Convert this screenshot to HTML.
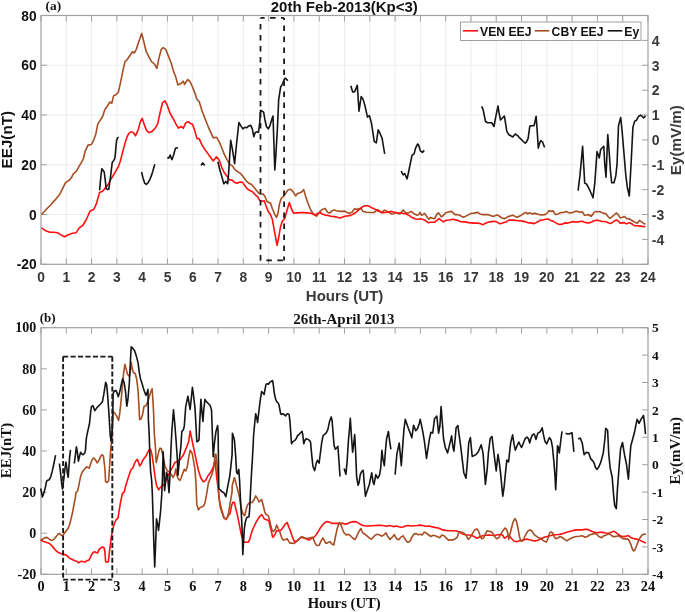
<!DOCTYPE html><html><head><meta charset="utf-8"><style>html,body{margin:0;padding:0;background:#fff;}svg{display:block;}</style></head><body>
<svg width="685" height="612" viewBox="0 0 685 612">
<rect width="685" height="612" fill="#fff"/>
<path d="M66.29 15.5V264.3M91.58 15.5V264.3M116.88 15.5V264.3M142.17 15.5V264.3M167.46 15.5V264.3M192.75 15.5V264.3M218.04 15.5V264.3M243.33 15.5V264.3M268.62 15.5V264.3M293.92 15.5V264.3M319.21 15.5V264.3M344.50 15.5V264.3M369.79 15.5V264.3M395.08 15.5V264.3M420.38 15.5V264.3M445.67 15.5V264.3M470.96 15.5V264.3M496.25 15.5V264.3M521.54 15.5V264.3M546.83 15.5V264.3M572.12 15.5V264.3M597.42 15.5V264.3M622.71 15.5V264.3M41.0 214.54H648.0M41.0 164.78H648.0M41.0 115.02H648.0M41.0 65.26H648.0" stroke="#ededed" stroke-width="1" fill="none"/>
<path d="M41.00 264.3v-6M41.00 15.5v6M66.29 264.3v-6M66.29 15.5v6M91.58 264.3v-6M91.58 15.5v6M116.88 264.3v-6M116.88 15.5v6M142.17 264.3v-6M142.17 15.5v6M167.46 264.3v-6M167.46 15.5v6M192.75 264.3v-6M192.75 15.5v6M218.04 264.3v-6M218.04 15.5v6M243.33 264.3v-6M243.33 15.5v6M268.62 264.3v-6M268.62 15.5v6M293.92 264.3v-6M293.92 15.5v6M319.21 264.3v-6M319.21 15.5v6M344.50 264.3v-6M344.50 15.5v6M369.79 264.3v-6M369.79 15.5v6M395.08 264.3v-6M395.08 15.5v6M420.38 264.3v-6M420.38 15.5v6M445.67 264.3v-6M445.67 15.5v6M470.96 264.3v-6M470.96 15.5v6M496.25 264.3v-6M496.25 15.5v6M521.54 264.3v-6M521.54 15.5v6M546.83 264.3v-6M546.83 15.5v6M572.12 264.3v-6M572.12 15.5v6M597.42 264.3v-6M597.42 15.5v6M622.71 264.3v-6M622.71 15.5v6M648.00 264.3v-6M648.00 15.5v6M41.0 264.30h6M41.0 214.54h6M41.0 164.78h6M41.0 115.02h6M41.0 65.26h6M41.0 15.50h6M648.0 264.30h-6M648.0 239.42h-6M648.0 214.54h-6M648.0 189.66h-6M648.0 164.78h-6M648.0 139.90h-6M648.0 115.02h-6M648.0 90.14h-6M648.0 65.26h-6M648.0 40.38h-6M648.0 15.50h-6" stroke="#a0a0a0" stroke-width="1" fill="none"/>
<rect x="41.0" y="15.5" width="607.0" height="248.8" fill="none" stroke="#a0a0a0" stroke-width="1.2"/>
<polyline points="41.6,214.5 45.9,209.8 50.8,204.7 54.7,200.4 59.6,194.5 63.1,187.6 65.5,182.7 69.0,180.4 71.8,176.9 73.3,173.9 76.3,171.4 79.2,166.1 82.2,161.2 83.5,158.2 85.1,151.4 88.0,145.1 91.4,144.5 93.9,139.6 95.9,133.7 97.8,123.9 102.5,116.7 104.9,109.4 107.4,106.2 109.8,102.0 111.8,103.2 113.5,95.9 115.9,94.7 118.4,92.2 120.8,81.2 123.3,68.9 125.0,61.6 127.0,59.9 129.4,56.2 132.4,51.8 134.3,53.0 136.3,49.3 138.7,42.0 141.7,33.4 143.6,40.7 146.1,51.3 149.0,57.2 151.5,61.6 154.4,64.0 156.9,68.4 158.8,58.6 161.3,49.3 163.2,47.6 165.7,49.3 168.1,55.4 171.1,62.8 173.5,71.4 175.5,76.3 177.9,84.9 180.9,83.6 183.3,81.2 184.6,84.4 187.7,79.5 190.0,81.6 192.5,87.0 194.9,93.1 196.9,99.2 199.3,101.7 201.8,110.2 204.2,116.4 207.2,124.2 209.6,129.9 213.3,137.9 216.5,137.2 219.4,142.1 221.9,148.2 224.3,154.4 226.8,159.3 229.7,164.2 232.7,166.2 235.4,170.1 238.1,171.9 240.8,173.7 243.5,177.0 246.2,180.9 248.9,183.3 251.6,184.5 254.3,187.8 257.0,191.0 258.8,193.2 260.6,193.7 263.3,194.1 265.1,196.8 266.9,201.3 268.7,202.5 270.5,203.1 272.3,208.5 274.1,212.9 276.4,217.4 277.7,214.7 279.5,204.0 281.3,198.2 283.6,196.4 285.8,193.2 287.9,189.9 290.3,189.2 292.9,191.4 295.6,195.9 297.4,193.5 300.1,192.8 301.9,191.7 303.7,189.6 305.5,195.9 308.2,204.0 310.9,210.3 313.1,213.8 314.9,215.1 316.7,216.2 318.1,213.8 319.9,212.1 320.0,211.4 322.2,209.6 325.1,208.4 327.3,211.8 329.5,213.2 331.7,211.1 333.9,210.0 336.8,210.8 339.7,211.4 341.9,211.4 344.8,211.1 347.0,212.5 349.2,213.2 352.1,212.2 354.3,208.9 356.5,209.3 358.7,208.9 360.9,208.4 363.1,211.4 366.7,212.2 370.4,212.5 374.0,212.5 376.2,210.8 377.7,209.6 379.9,211.1 382.0,212.2 384.2,210.3 386.4,210.8 388.6,212.2 390.1,213.2 391.5,214.0 393.7,213.7 395.9,212.5 397.4,213.2 399.6,214.0 401.8,211.8 403.2,209.9 404.7,211.8 406.9,213.2 409.1,212.5 411.2,211.4 413.4,213.2 415.0,214.3 417.2,215.3 418.6,214.6 420.1,212.4 421.6,215.3 423.0,214.6 424.5,213.4 425.9,215.3 427.4,217.5 428.9,219.3 430.3,217.5 432.5,218.2 434.7,218.7 436.6,214.6 438.4,212.8 439.8,214.6 441.3,216.8 443.5,215.3 445.7,212.8 448.6,212.0 451.5,211.4 453.0,212.8 455.1,214.6 457.3,214.6 459.5,215.3 461.7,216.4 463.5,217.2 465.4,216.4 468.3,214.9 471.2,213.4 474.1,213.1 477.8,212.4 480.0,213.9 482.2,214.6 485.1,214.6 488.0,214.6 490.9,215.8 493.8,216.4 496.8,214.9 498.9,215.8 501.1,217.5 504.1,218.7 506.2,217.8 508.4,216.4 510.0,216.1 512.9,215.3 515.1,216.4 517.3,217.2 520.2,215.8 522.4,214.3 524.6,212.8 526.1,212.4 527.5,213.9 529.7,212.8 531.9,213.9 534.8,213.4 537.0,213.9 539.2,214.6 542.1,215.0 545.0,214.6 547.2,213.1 548.7,210.9 550.9,211.4 553.1,210.9 554.5,213.4 556.0,214.6 558.2,213.9 560.4,212.8 563.3,212.4 566.2,211.4 568.4,212.4 570.6,213.1 572.8,212.4 575.0,211.4 577.9,211.4 580.1,212.4 582.3,211.7 583.7,213.9 584.5,215.3 586.6,215.0 588.8,214.6 591.0,216.4 593.2,213.9 593.5,213.0 595.3,211.5 597.4,211.8 599.6,211.8 601.8,212.5 603.6,213.4 605.8,213.6 608.0,216.5 610.0,218.5 611.9,216.9 614.1,215.0 616.3,213.0 618.0,214.3 620.2,217.9 622.4,217.3 624.6,216.5 626.8,218.6 629.0,218.8 631.2,220.0 633.4,221.3 635.5,222.6 637.3,223.2 639.5,220.4 641.2,221.7 643.4,223.2 645.4,224.3" fill="none" stroke="#a64d22" stroke-width="1.6" stroke-linejoin="round"/>
<polyline points="41.6,227.8 45.9,230.8 49.8,232.2 53.7,232.2 57.6,232.7 61.6,235.3 64.5,236.7 68.4,234.7 72.4,233.3 76.3,232.7 79.2,227.8 82.7,225.5 86.1,220.0 90.0,211.2 93.9,209.2 96.9,202.4 97.4,200.0 98.3,197.0 99.6,192.4 101.3,191.8 102.9,191.1 105.5,187.8 108.1,184.5 110.8,179.3 113.4,175.3 116.0,170.7 118.6,166.1 120.2,161.5 121.9,155.0 123.6,148.4 125.5,141.8 127.2,136.6 128.9,133.3 130.5,132.0 132.4,132.0 134.2,133.7 135.5,135.9 136.8,132.9 138.1,130.0 140.4,121.6 142.2,118.4 144.1,124.1 146.6,130.7 149.0,132.6 152.0,131.4 155.1,128.2 157.6,124.1 160.0,113.0 162.5,102.7 165.0,100.8 167.4,105.7 169.9,113.0 173.5,119.2 176.0,124.1 178.4,128.2 180.9,126.5 183.3,128.2 185.8,122.8 188.2,121.6 190.0,123.2 192.5,124.2 194.9,131.1 196.9,138.4 199.3,138.9 201.8,144.6 204.2,148.7 206.7,151.9 209.6,156.1 213.3,161.0 216.5,156.8 219.4,160.5 221.9,167.8 224.3,172.7 227.3,176.4 229.7,180.1 231.8,179.7 234.5,182.4 237.2,183.3 239.9,182.0 242.6,182.4 244.4,185.1 247.1,188.7 249.8,190.5 252.5,191.7 255.2,194.6 257.9,197.1 259.7,200.4 262.4,201.3 264.2,200.7 266.0,205.8 268.1,211.2 270.5,214.7 272.3,219.2 274.1,229.1 275.9,239.0 277.1,245.3 278.6,238.1 280.4,227.3 282.2,221.6 284.9,218.3 286.7,211.2 289.4,202.5 291.5,209.0 293.8,213.3 296.5,212.9 300.1,212.6 303.7,212.6 307.3,212.9 310.9,213.3 314.5,214.7 317.2,213.8 319.9,212.6 320.0,212.5 322.2,214.0 325.1,215.1 328.0,215.4 330.9,216.2 333.9,216.6 336.1,216.9 338.2,217.6 340.4,217.9 342.6,216.9 344.8,216.2 347.7,215.9 350.7,215.4 353.6,214.0 356.5,211.8 358.7,209.9 360.9,208.1 363.1,206.4 365.3,205.7 367.4,205.7 369.6,206.4 371.8,207.8 374.0,208.9 376.9,210.3 379.9,211.8 382.0,212.8 385.0,212.5 387.9,212.2 391.5,211.4 394.5,212.2 397.4,212.8 401.8,213.2 406.1,214.0 409.1,215.4 412.0,217.6 414.9,218.6 415.0,219.0 417.9,219.3 420.8,218.7 423.8,219.7 425.9,220.9 428.1,222.6 431.1,222.2 434.7,222.2 436.9,220.4 439.1,218.7 441.3,220.4 443.5,221.9 445.7,220.4 449.3,220.0 453.0,219.3 456.6,220.1 460.3,221.6 464.6,221.9 469.0,222.6 473.4,223.1 477.8,223.1 480.7,223.8 482.9,224.8 485.1,223.4 488.0,222.2 491.6,221.6 494.6,221.2 496.8,221.9 498.9,223.4 501.1,223.6 504.1,222.6 506.2,221.9 508.4,220.4 510.0,220.1 512.9,220.0 515.8,220.4 518.8,220.7 521.7,220.9 524.6,221.6 527.5,222.6 530.4,222.9 534.1,223.6 537.0,222.2 539.9,220.4 542.8,220.0 545.8,219.3 548.0,219.0 550.9,220.4 553.8,221.6 556.7,223.4 559.6,224.5 562.6,224.1 564.7,222.9 567.7,223.1 570.6,222.2 573.5,221.6 576.4,222.2 579.3,221.6 582.3,221.2 584.5,222.2 587.4,222.9 590.3,222.6 593.2,221.2 593.9,220.8 596.1,220.4 598.3,220.4 600.5,221.1 602.3,221.5 604.5,221.5 606.6,222.0 608.8,223.0 610.6,223.5 612.8,222.2 615.0,220.6 616.7,220.0 618.5,221.3 620.2,223.2 622.0,222.9 624.2,222.6 626.4,223.9 628.5,222.9 630.3,223.0 632.5,224.3 634.7,225.8 637.3,225.8 639.9,226.1 642.6,226.4 645.4,226.7" fill="none" stroke="#ff0f0f" stroke-width="1.6" stroke-linejoin="round"/>
<polyline points="99.6,190.4 100.9,176.0 101.8,168.8 102.9,170.1 104.2,172.0 105.2,179.9 106.2,188.5 107.5,189.4 108.8,189.1 110.1,179.9 111.4,169.4 112.3,162.2 113.4,160.9 114.7,158.9 115.4,153.6 116.0,145.8 116.7,139.9 117.6,137.9 118.6,137.2" fill="none" stroke="#141414" stroke-width="1.6" stroke-linejoin="round"/>
<polyline points="141.6,172.0 143.0,178.0 144.7,183.2 146.2,184.5 148.2,182.6 150.2,178.6 152.2,173.4 153.5,168.8 154.8,164.2" fill="none" stroke="#141414" stroke-width="1.6" stroke-linejoin="round"/>
<polyline points="167.3,157.6 168.6,158.2 170.2,155.0 171.2,158.2 171.9,159.6 173.2,156.3 173.8,154.3 174.5,151.7 175.4,148.4 176.7,147.7 177.8,148.4" fill="none" stroke="#141414" stroke-width="1.6" stroke-linejoin="round"/>
<polyline points="201.0,165.4 202.7,162.9 204.7,165.4" fill="none" stroke="#141414" stroke-width="1.6" stroke-linejoin="round"/>
<polyline points="217.9,161.8 219.9,170.0 221.9,176.9 223.8,183.7 225.8,181.4 227.7,183.7 228.7,172.0 230.7,140.2 232.6,150.4 234.6,163.7 236.6,143.5 238.9,122.5 240.9,125.9 242.8,128.8 244.8,127.3 246.8,127.8 248.7,125.9 250.7,125.3 252.3,128.8 253.8,136.7 255.2,132.4 257.2,131.8 258.5,132.4 259.7,122.9 260.5,110.2 262.1,111.2 263.6,112.2 265.0,120.0 266.4,126.5 268.3,128.8 269.9,125.9 271.9,119.0 273.0,116.1 274.8,170.0 275.8,156.3 277.4,128.8 278.7,99.4 280.7,86.7 282.6,84.1 284.0,79.8 285.2,78.2 286.6,79.4 287.9,80.8" fill="none" stroke="#141414" stroke-width="1.6" stroke-linejoin="round"/>
<polyline points="350.8,85.7 352.7,92.0 354.7,91.6 357.3,85.3 359.0,111.2 361.2,96.5 363.1,99.4 365.1,106.3 367.5,117.1 369.4,115.5 371.4,122.9 372.9,132.7 374.3,141.6 376.3,142.9 378.2,129.8 380.2,133.7 382.2,138.6 383.1,144.5 384.7,153.9" fill="none" stroke="#141414" stroke-width="1.6" stroke-linejoin="round"/>
<polyline points="401.2,171.0 403.1,174.9 404.7,173.5 407.1,178.8 409.0,170.0 410.6,162.2 412.0,155.3 414.1,153.9 415.5,148.4 417.5,144.1 418.4,144.5 420.4,150.8 422.4,152.4 424.3,150.4" fill="none" stroke="#141414" stroke-width="1.6" stroke-linejoin="round"/>
<polyline points="481.6,106.4 483.1,109.7 484.2,115.0 485.5,121.5 487.7,122.8 489.7,122.8 491.7,122.8 493.0,124.8 494.0,126.5 495.6,117.6 498.0,106.0 499.2,113.6 500.5,120.0 502.2,118.2 504.4,116.0 505.5,122.8 506.8,131.4 508.8,134.7 510.7,135.7 512.7,137.0 515.3,134.0 517.3,135.3 519.3,137.6 521.2,139.3 523.2,141.5 525.2,143.2 526.5,141.9 528.1,138.6 529.8,126.1 531.8,125.7 534.1,125.7 536.1,116.3 537.0,128.1 538.3,148.1 539.4,143.9 540.7,140.6 542.5,141.9 544.6,147.5" fill="none" stroke="#141414" stroke-width="1.6" stroke-linejoin="round"/>
<polyline points="578.1,190.6 579.9,175.9 581.1,163.3 582.6,146.2 584.0,170.5 584.7,183.1 586.5,184.0 588.0,186.7 589.8,190.3 591.2,193.5 593.0,197.8 594.8,183.1 597.0,151.6 598.4,155.2 599.3,157.9 600.6,149.8 602.0,148.0 603.8,146.2 604.7,163.3 606.0,177.3 607.8,134.6 609.2,152.5 610.4,170.5 611.7,182.7 614.0,182.7 615.8,175.9 617.1,163.3 618.5,125.6 620.7,117.5 622.1,131.0 623.9,152.5 625.7,174.1 627.2,186.7 629.3,196.0 631.1,163.3 632.9,127.4 634.7,121.1 636.5,120.2 638.7,116.2 640.5,115.1 641.9,116.2 643.7,118.0 645.5,115.7" fill="none" stroke="#141414" stroke-width="1.6" stroke-linejoin="round"/>
<g fill="none" stroke="#1a1a1a" stroke-width="1.8" stroke-dasharray="5.6 5.4">
<path d="M260.5 17.9H284.1" stroke-dashoffset="1.5"/>
<path d="M260.5 17.9V260.4" stroke-dashoffset="5"/>
<path d="M284.1 17.9V260.4" stroke-dashoffset="3.4"/>
<path d="M260.5 260.4H284.1" stroke-dashoffset="5.2"/>
</g>
<rect x="460.5" y="22" width="180.5" height="18.5" fill="#fff" stroke="#a0a0a0" stroke-width="1"/>
<path d="M463 30.8h15" stroke="#ff0f0f" stroke-width="1.6"/>
<path d="M534.7 30.8h14.6" stroke="#a64d22" stroke-width="1.6"/>
<path d="M607.7 30.8h14.6" stroke="#141414" stroke-width="1.6"/>
<g font-family="'Liberation Sans', Arial, sans-serif" font-weight="bold" font-size="12.2" fill="#111">
<text x="480" y="35.8">VEN EEJ</text><text x="551.6" y="35.8">CBY EEJ</text><text x="624.3" y="35.8">Ey</text></g>
<g font-family="'Liberation Sans', Arial, sans-serif" font-weight="bold">
<text x="344.3" y="11.6" font-size="15" text-anchor="middle" fill="#111">20th Feb-2013(Kp&lt;3)</text>
<text x="36.6" y="269.4" font-size="13.8" text-anchor="end" fill="#111">-20</text>
<text x="36.6" y="219.6" font-size="13.8" text-anchor="end" fill="#111">0</text>
<text x="36.6" y="169.9" font-size="13.8" text-anchor="end" fill="#111">20</text>
<text x="36.6" y="120.1" font-size="13.8" text-anchor="end" fill="#111">40</text>
<text x="36.6" y="70.4" font-size="13.8" text-anchor="end" fill="#111">60</text>
<text x="36.6" y="20.6" font-size="13.8" text-anchor="end" fill="#111">80</text>
<text x="41.0" y="282.1" font-size="13.8" text-anchor="middle" fill="#383838">0</text>
<text x="66.3" y="282.1" font-size="13.8" text-anchor="middle" fill="#383838">1</text>
<text x="91.6" y="282.1" font-size="13.8" text-anchor="middle" fill="#383838">2</text>
<text x="116.9" y="282.1" font-size="13.8" text-anchor="middle" fill="#383838">3</text>
<text x="142.2" y="282.1" font-size="13.8" text-anchor="middle" fill="#383838">4</text>
<text x="167.5" y="282.1" font-size="13.8" text-anchor="middle" fill="#383838">5</text>
<text x="192.8" y="282.1" font-size="13.8" text-anchor="middle" fill="#383838">6</text>
<text x="218.0" y="282.1" font-size="13.8" text-anchor="middle" fill="#383838">7</text>
<text x="243.3" y="282.1" font-size="13.8" text-anchor="middle" fill="#383838">8</text>
<text x="268.6" y="282.1" font-size="13.8" text-anchor="middle" fill="#383838">9</text>
<text x="293.9" y="282.1" font-size="13.8" text-anchor="middle" fill="#383838">10</text>
<text x="319.2" y="282.1" font-size="13.8" text-anchor="middle" fill="#383838">11</text>
<text x="344.5" y="282.1" font-size="13.8" text-anchor="middle" fill="#383838">12</text>
<text x="369.8" y="282.1" font-size="13.8" text-anchor="middle" fill="#383838">13</text>
<text x="395.1" y="282.1" font-size="13.8" text-anchor="middle" fill="#383838">14</text>
<text x="420.4" y="282.1" font-size="13.8" text-anchor="middle" fill="#383838">15</text>
<text x="445.7" y="282.1" font-size="13.8" text-anchor="middle" fill="#383838">16</text>
<text x="471.0" y="282.1" font-size="13.8" text-anchor="middle" fill="#383838">17</text>
<text x="496.2" y="282.1" font-size="13.8" text-anchor="middle" fill="#383838">18</text>
<text x="521.5" y="282.1" font-size="13.8" text-anchor="middle" fill="#383838">19</text>
<text x="546.8" y="282.1" font-size="13.8" text-anchor="middle" fill="#383838">20</text>
<text x="572.1" y="282.1" font-size="13.8" text-anchor="middle" fill="#383838">21</text>
<text x="597.4" y="282.1" font-size="13.8" text-anchor="middle" fill="#383838">22</text>
<text x="622.7" y="282.1" font-size="13.8" text-anchor="middle" fill="#383838">23</text>
<text x="648.0" y="282.1" font-size="13.8" text-anchor="middle" fill="#383838">24</text>
<text x="651.8" y="244.7" font-size="14" fill="#383838">-4</text>
<text x="651.8" y="219.8" font-size="14" fill="#383838">-3</text>
<text x="651.8" y="195.0" font-size="14" fill="#383838">-2</text>
<text x="651.8" y="170.1" font-size="14" fill="#383838">-1</text>
<text x="651.8" y="145.2" font-size="14" fill="#383838">0</text>
<text x="651.8" y="120.3" font-size="14" fill="#383838">1</text>
<text x="651.8" y="95.4" font-size="14" fill="#383838">2</text>
<text x="651.8" y="70.6" font-size="14" fill="#383838">3</text>
<text x="651.8" y="45.7" font-size="14" fill="#383838">4</text>
<text x="344.6" y="301" font-size="15" text-anchor="middle" fill="#3a3a3a">Hours (UT)</text>
<text transform="translate(11.8 139.7) rotate(-90)" font-size="15.2" text-anchor="middle" fill="#111">EEJ(nT)</text>
<text transform="translate(681.4 140.1) rotate(-90)" font-size="15.2" text-anchor="middle" fill="#3a3a3a">Ey(mV/m)</text>
</g>
<text x="45.6" y="9.9" font-family="'Liberation Serif', 'Times New Roman', serif" font-weight="bold" font-size="13.3" fill="#111">(a)</text>
<path d="M41.00 574.3v-6M41.00 327.7v6M66.29 574.3v-6M66.29 327.7v6M91.58 574.3v-6M91.58 327.7v6M116.88 574.3v-6M116.88 327.7v6M142.17 574.3v-6M142.17 327.7v6M167.46 574.3v-6M167.46 327.7v6M192.75 574.3v-6M192.75 327.7v6M218.04 574.3v-6M218.04 327.7v6M243.33 574.3v-6M243.33 327.7v6M268.62 574.3v-6M268.62 327.7v6M293.92 574.3v-6M293.92 327.7v6M319.21 574.3v-6M319.21 327.7v6M344.50 574.3v-6M344.50 327.7v6M369.79 574.3v-6M369.79 327.7v6M395.08 574.3v-6M395.08 327.7v6M420.38 574.3v-6M420.38 327.7v6M445.67 574.3v-6M445.67 327.7v6M470.96 574.3v-6M470.96 327.7v6M496.25 574.3v-6M496.25 327.7v6M521.54 574.3v-6M521.54 327.7v6M546.83 574.3v-6M546.83 327.7v6M572.12 574.3v-6M572.12 327.7v6M597.42 574.3v-6M597.42 327.7v6M622.71 574.3v-6M622.71 327.7v6M648.00 574.3v-6M648.00 327.7v6M41.0 574.30h6M41.0 533.20h6M41.0 492.10h6M41.0 451.00h6M41.0 409.90h6M41.0 368.80h6M41.0 327.70h6M648.0 574.30h-6M648.0 546.90h-6M648.0 519.50h-6M648.0 492.10h-6M648.0 464.70h-6M648.0 437.30h-6M648.0 409.90h-6M648.0 382.50h-6M648.0 355.10h-6M648.0 327.70h-6" stroke="#a0a0a0" stroke-width="1" fill="none"/>
<rect x="41.0" y="327.7" width="607.0" height="246.59999999999997" fill="none" stroke="#a0a0a0" stroke-width="1.2"/>
<polyline points="40.6,540.0 43.1,541.2 46.1,542.2 49.0,543.2 51.2,545.1 53.4,547.6 55.6,550.3 57.9,552.2 60.1,553.2 62.3,554.1 64.5,554.4 66.7,555.4 68.9,557.6 71.1,559.1 73.3,560.0 75.5,560.9 77.0,561.3 78.4,562.8 79.9,561.8 81.4,561.3 83.6,561.8 85.1,562.1 86.8,560.6 88.7,560.3 89.8,558.8 91.2,555.4 93.1,552.5 94.6,551.8 96.1,552.5 97.6,552.9 99.0,549.6 100.5,548.1 102.7,547.1 103.9,547.4 104.9,551.8 105.6,561.8 107.1,562.1 108.3,561.8 109.8,548.8 111.5,535.6 113.0,528.2 114.5,523.1 115.9,520.1 118.0,517.9 120.5,502.4 122.4,493.5 124.2,492.1 125.6,486.2 127.9,478.8 129.8,472.9 131.2,469.3 133.0,467.8 134.5,463.4 136.2,460.4 137.4,459.4 138.6,462.6 139.6,465.9 141.1,464.1 142.6,460.9 144.0,458.5 145.5,456.8 147.0,453.8 148.9,450.1 150.6,449.4 152.1,455.3 153.6,465.6 155.1,477.4 156.5,485.4 158.7,489.9 160.0,487.8 164.4,484.1 168.8,473.8 171.8,468.7 174.7,462.8 177.6,461.3 180.6,459.1 183.5,454.7 186.5,447.4 188.7,441.5 190.1,431.0 196.0,459.1 198.2,469.4 200.9,478.2 203.4,481.9 205.6,480.4 207.8,476.0 210.7,472.4 212.9,467.9 215.1,460.6 216.6,476.8 218.1,488.5 219.6,501.8 221.8,510.6 224.0,517.9 226.2,519.4 228.4,515.0 230.0,513.9 231.5,505.8 232.9,502.2 234.4,502.2 235.8,508.8 237.3,514.6 238.8,521.9 240.2,529.2 241.4,535.0 242.4,538.0 243.9,542.3 246.1,542.3 248.2,542.3 249.7,539.4 251.9,531.4 254.1,526.3 256.3,521.9 258.5,518.2 260.7,515.3 261.8,514.6 262.8,516.1 264.3,519.0 266.5,519.7 268.7,520.4 270.1,526.3 271.6,532.1 272.6,537.2 273.8,536.5 275.3,533.6 276.7,530.7 278.9,530.7 281.1,529.9 283.3,527.0 285.2,524.1 287.2,522.6 289.1,527.7 290.6,531.4 292.0,535.8 293.5,540.1 295.0,541.6 297.2,540.9 299.3,538.7 301.5,537.2 303.7,538.0 305.9,538.7 307.4,539.4 308.8,540.1 310.3,539.4 311.8,537.9 313.9,537.2 316.1,535.0 318.3,531.4 320.5,527.7 322.7,524.8 324.9,522.6 327.1,521.6 330.0,522.2 331.6,523.4 335.2,523.4 339.6,523.4 343.2,523.4 345.4,524.1 347.6,523.6 349.8,522.6 352.0,521.9 354.2,521.6 356.4,521.9 358.6,523.1 360.8,524.5 363.0,525.5 365.9,526.0 368.8,526.0 371.7,525.7 375.4,525.5 379.0,525.3 382.7,525.5 386.3,526.3 389.2,525.5 391.4,526.0 394.3,526.6 396.5,526.0 398.7,526.7 400.9,527.2 403.1,527.0 405.3,526.0 408.2,525.5 411.1,526.0 414.1,525.7 417.0,525.5 419.9,525.1 422.9,525.5 425.8,526.3 428.8,526.0 431.7,526.7 434.6,527.4 438.2,528.0 441.9,529.6 445.5,530.4 449.2,530.7 452.8,530.7 456.5,531.0 459.4,532.1 462.3,533.9 465.3,534.7 468.2,535.0 471.1,535.3 474.0,536.5 476.9,538.2 479.9,536.8 482.8,535.8 485.7,535.3 488.6,535.0 491.5,535.3 494.5,535.5 497.4,534.7 500.3,534.5 502.5,535.0 504.4,538.2 506.1,537.2 507.9,535.8 509.8,536.5 511.7,538.7 514.2,541.2 517.1,541.6 520.8,540.6 523.8,540.1 526.7,539.1 529.6,539.7 532.5,540.6 535.4,540.9 538.4,540.1 541.3,538.7 544.2,537.2 547.1,536.5 550.0,535.8 553.0,535.0 555.9,534.7 558.8,534.5 561.7,533.9 564.6,533.0 567.6,532.1 570.5,531.2 573.4,530.4 576.3,529.9 579.2,529.8 582.2,529.9 585.1,529.2 588.0,529.6 590.9,530.9 593.8,532.1 596.8,532.8 599.7,532.4 602.9,532.4 605.7,533.0 608.6,533.2 611.4,532.3 613.7,531.1 616.0,532.6 618.3,534.3 620.6,536.0 622.9,536.6 625.2,536.4 628.0,535.5 630.3,537.2 632.6,538.3 635.5,538.9 638.3,539.5 640.6,540.6 642.9,541.8 645.8,542.9" fill="none" stroke="#ff0f0f" stroke-width="1.6" stroke-linejoin="round"/>
<polyline points="40.6,540.0 42.4,539.3 44.6,537.8 46.8,537.4 49.0,538.8 51.2,540.3 52.7,540.3 54.5,538.5 56.4,536.3 58.6,533.8 59.8,533.4 61.2,535.3 62.7,535.6 64.2,533.4 65.9,531.2 68.1,528.5 69.6,524.6 71.1,518.7 72.6,512.1 74.0,504.7 75.5,496.6 75.9,492.8 77.4,491.3 78.4,487.6 79.5,481.8 80.6,476.6 82.1,472.2 83.9,469.7 85.4,468.2 86.5,466.8 88.0,467.4 89.2,468.2 90.6,464.1 92.1,459.7 93.6,457.9 95.4,459.7 97.1,462.9 98.6,460.9 100.5,456.8 102.0,454.6 103.4,456.0 104.9,468.5 105.6,481.8 107.1,482.5 108.6,481.0 109.8,462.6 110.8,447.9 111.8,439.1 113.1,411.5 114.6,412.9 116.1,415.1 117.6,418.1 118.6,420.3 119.8,412.9 121.2,399.7 122.4,386.5 123.4,374.7 124.9,364.4 125.9,368.1 127.4,374.0 129.3,376.2 130.4,370.3 131.2,362.2 132.3,368.8 133.3,372.5 135.2,373.5 136.7,379.1 138.1,390.9 138.9,405.6 139.6,419.6 141.1,418.8 142.6,414.4 144.0,406.3 146.2,405.6 147.7,401.9 149.2,396.8 150.6,392.4 152.1,388.7 152.9,399.7 153.6,412.9 154.3,433.2 155.4,446.5 156.2,462.6 157.3,458.2 158.7,451.6 160.0,448.1 161.5,448.8 162.9,456.2 165.1,466.5 167.4,470.9 169.6,471.6 171.8,475.3 173.2,477.5 174.7,473.8 175.9,468.7 176.9,475.3 178.4,479.0 179.9,480.4 181.3,477.5 182.8,473.1 184.3,469.4 185.7,470.9 187.2,467.2 188.7,457.6 190.1,450.3 192.1,453.2 193.5,460.6 195.0,469.4 196.0,484.1 196.8,504.7 198.5,509.9 200.0,507.6 201.5,506.9 203.4,506.2 204.9,503.2 206.3,495.9 208.5,482.6 210.7,477.5 212.2,473.8 213.7,467.9 215.1,454.7 215.9,454.0 217.4,469.4 218.8,495.9 220.3,507.6 221.8,512.1 224.0,517.9 225.9,519.4 227.9,516.5 229.9,504.7 232.1,491.5 232.2,485.6 234.4,477.5 236.2,484.1 238.1,491.5 239.6,497.4 241.0,507.6 242.9,513.5 244.7,515.7 246.2,509.1 247.6,504.7 249.9,502.5 252.1,502.5 253.8,500.3 255.7,495.9 257.2,498.1 259.1,501.8 260.1,501.0 261.6,499.6 263.1,504.7 264.6,511.3 266.0,514.3 268.2,515.7 269.7,520.4 270.9,526.3 272.3,530.7 273.8,531.4 275.3,529.2 276.7,525.1 278.2,528.5 279.9,532.1 281.8,538.0 283.3,540.1 285.5,539.4 287.2,538.7 288.4,540.9 289.9,543.1 292.0,543.1 294.2,543.5 296.4,541.6 298.6,539.4 300.8,537.2 302.3,536.5 303.7,537.7 305.9,538.2 308.1,538.2 310.3,537.7 312.5,537.2 313.9,540.1 315.4,543.8 316.9,545.5 319.1,545.3 320.8,541.6 322.7,538.0 324.2,540.1 325.6,543.1 327.1,543.1 328.5,542.3 330.0,541.6 331.6,543.8 333.8,545.0 335.5,536.5 337.4,527.7 339.3,522.6 340.8,524.1 342.2,528.5 344.0,532.8 346.2,535.0 348.4,534.3 350.5,535.8 352.7,538.0 354.9,539.7 356.4,537.2 358.6,532.1 360.8,528.5 362.7,532.8 365.1,534.3 367.3,536.2 369.5,538.2 371.4,539.1 373.2,537.2 375.4,535.0 377.6,534.3 379.7,535.0 381.9,536.2 384.1,534.7 386.0,532.8 387.8,536.5 390.0,539.4 392.2,537.2 394.3,534.7 396.5,538.7 398.7,539.7 400.9,537.2 403.1,535.8 405.3,539.4 407.5,542.3 409.7,541.6 411.9,537.2 414.1,533.9 416.2,533.6 418.4,534.7 420.6,534.3 422.2,535.0 424.4,532.1 426.6,533.3 428.8,535.0 430.9,536.5 433.1,535.3 435.3,535.8 437.5,536.8 439.7,537.7 441.9,535.0 444.1,535.8 446.3,538.2 448.5,540.1 450.7,539.7 452.8,540.1 455.0,539.1 457.2,537.2 458.7,532.8 460.1,531.8 462.3,532.4 464.5,533.6 466.4,535.8 468.2,539.4 470.4,537.2 472.6,533.3 474.7,529.9 476.9,528.9 478.7,531.4 480.1,535.8 481.6,538.7 483.5,538.2 485.0,534.7 487.2,530.7 489.3,531.4 491.5,531.8 493.0,533.9 494.7,536.5 496.6,538.7 498.8,537.7 501.0,533.9 503.2,530.4 505.0,528.0 506.4,529.2 507.6,532.1 508.8,539.4 509.8,535.0 511.2,529.2 513.1,521.9 514.9,518.7 516.4,521.2 517.9,527.7 519.4,536.5 520.8,540.9 522.6,540.9 524.1,538.0 525.9,534.3 528.1,530.7 530.3,529.9 532.2,531.4 534.0,534.3 536.2,536.2 538.4,537.7 540.5,538.2 542.7,540.1 544.9,541.6 546.4,542.0 547.8,538.7 549.7,532.8 551.2,531.8 553.0,533.3 554.4,537.2 555.9,538.7 558.1,537.7 560.3,536.5 562.4,537.7 564.6,539.4 566.8,540.9 569.0,539.4 571.2,538.2 573.4,537.2 576.3,536.5 579.2,536.2 582.2,535.8 585.1,537.2 587.3,536.5 589.5,535.0 591.6,534.3 594.6,533.6 596.8,534.3 598.9,536.5 601.7,537.8 603.4,536.0 605.7,535.2 608.0,534.1 609.7,533.8 611.4,535.5 613.7,536.8 616.0,536.4 618.3,535.7 620.6,537.2 622.9,538.7 625.2,538.9 627.5,538.7 629.2,540.6 630.9,544.6 632.6,549.8 633.8,550.9 634.9,549.8 636.6,545.8 638.3,541.2 640.0,537.8 641.8,535.2 643.5,534.3 645.8,534.1" fill="none" stroke="#a64d22" stroke-width="1.6" stroke-linejoin="round"/>
<polyline points="40.7,488.5 42.4,496.9 43.9,492.9 45.4,487.1 46.6,481.2 47.8,480.2 49.3,479.7 50.7,476.8 52.2,471.4 53.7,464.5 55.6,455.2" fill="none" stroke="#141414" stroke-width="1.6" stroke-linejoin="round"/>
<polyline points="59.4,463.5 60.5,472.4 61.7,484.1 62.5,489.0 63.3,483.1 64.0,477.3 65.0,468.4 65.9,462.1 66.6,466.5 67.4,473.3 68.2,477.3 68.9,467.5 69.6,457.6 70.5,449.8" fill="none" stroke="#141414" stroke-width="1.6" stroke-linejoin="round"/>
<polyline points="74.3,463.5 75.3,455.7 76.4,446.9 77.2,450.8 78.4,461.1 79.2,457.6 80.6,452.3 82.1,454.2 83.1,454.7 84.9,452.7 85.5,449.8 86.2,440.0 86.7,436.1 88.0,430.2 89.4,424.3 90.6,412.5 91.4,406.7 92.9,405.7 94.9,410.6 96.9,407.6 98.8,405.7 100.8,403.7 102.4,401.8 103.7,394.9 105.7,382.2 106.7,385.1 107.6,394.9 109.0,414.5 110.2,435.1 111.0,441.0 112.2,430.2 112.9,406.7 113.1,393.8 114.2,390.9 116.1,390.6 117.1,393.1 118.3,396.8 119.8,391.6 121.2,385.0 122.7,378.8 124.2,382.8 125.6,392.4 126.8,406.3 127.9,399.7 129.3,383.5 130.4,361.5 131.2,346.8 132.7,348.2 134.5,350.4 136.2,355.6 138.1,362.9 139.2,371.8 140.4,378.4 141.8,382.8 143.3,387.9 144.8,392.4 145.9,395.3 147.0,393.1 148.0,389.4 148.4,420.0 149.2,434.7 149.9,456.8 150.6,471.5 151.6,480.0 152.3,492.4 153.1,518.8 153.9,545.2 154.7,567.0 155.4,549.9 156.5,518.8 157.8,525.0 158.5,530.5 159.3,523.5 160.6,511.1 161.7,495.5 162.4,480.0 163.1,451.6 163.9,464.1 164.6,490.6 165.6,481.8 166.5,472.2 167.6,475.1 168.3,484.7 169.0,492.8 169.8,478.8 170.9,450.9 171.8,431.8 173.5,409.7 174.7,422.9 176.2,442.1 177.4,460.0 177.9,475.3 178.8,466.5 179.9,454.7 180.9,445.9 181.8,431.8 183.5,429.6 184.3,425.9 185.7,406.8 187.9,396.2 189.4,405.3 190.1,409.4 191.2,399.4 192.4,387.4 193.5,395.0 195.0,408.2 196.0,425.9 196.8,441.8 197.9,441.3 199.0,439.9 199.7,422.9 200.9,399.4 201.9,411.2 202.9,421.5 203.8,409.7 204.9,399.4 206.3,401.6 208.5,403.8 210.0,405.3 211.5,409.7 212.2,428.8 213.2,456.8 214.4,443.5 215.9,431.8 217.6,425.6 218.1,431.8 218.8,488.5 221.8,491.5 224.0,492.9 225.9,496.6 227.6,487.1 229.9,475.3 232.1,454.7 232.4,433.2 233.8,437.6 234.4,440.0 235.6,454.7 236.6,472.4 237.6,473.8 238.8,469.4 239.6,481.2 240.6,501.8 241.4,514.6 242.4,536.5 242.8,554.7 243.4,543.8 244.3,529.2 245.3,521.9 246.8,517.5 249.0,516.8 249.7,508.8 250.3,495.9 251.3,476.8 252.4,459.1 253.2,444.4 253.5,436.5 254.7,423.2 255.7,413.7 256.8,418.1 257.6,422.5 258.7,412.9 260.1,401.2 261.6,391.6 263.1,393.1 264.1,394.6 265.0,389.4 266.0,384.3 267.5,383.8 268.5,384.3 269.7,382.4 271.2,381.3 272.6,380.6 273.4,385.7 274.4,393.8 275.6,399.0 276.8,401.9 277.8,402.6 278.8,404.1 279.7,408.5 280.7,414.1 281.8,414.4 282.9,413.7 284.1,414.7 285.6,415.9 286.6,414.4 287.6,413.7 289.1,414.4 290.0,421.8 290.6,430.6 291.5,443.8 292.9,441.6 294.7,440.6 296.2,438.7 297.6,435.7 299.1,434.3 300.6,432.8 302.1,431.3 302.8,435.0 303.8,443.8 305.0,440.1 306.5,438.7 307.9,439.4 310.0,440.9 310.6,442.6 311.8,455.9 312.9,466.2 314.7,470.6 316.2,463.2 317.4,460.3 319.1,463.2 320.6,451.5 321.8,441.9 323.2,435.3 325.0,434.1 326.5,432.4 327.9,429.4 329.4,422.1 331.2,416.9 332.1,420.6 333.1,433.8 334.1,445.6 335.3,449.3 336.8,447.8 337.9,446.3 339.0,461.8 340.0,476.5" fill="none" stroke="#141414" stroke-width="1.6" stroke-linejoin="round"/>
<polyline points="344.1,468.4 345.9,474.3 347.1,461.8 348.5,439.7 349.7,426.5 350.3,418.4 351.5,436.8 352.6,452.2 353.7,444.1 354.7,434.6 355.6,451.5 356.6,476.5 358.1,485.3 359.1,482.4 360.3,474.3 361.8,471.3 363.2,470.3 364.0,480.1 365.4,496.2 367.2,490.8 369.3,484.5 371.7,472.8 372.9,480.9 374.0,484.5 375.8,474.6 377.6,478.2 379.4,475.5 380.7,468.3 381.9,450.3 383.0,459.3 384.3,465.6 385.5,450.3 386.6,438.7 388.4,431.5 389.7,441.3 390.9,449.4" fill="none" stroke="#141414" stroke-width="1.6" stroke-linejoin="round"/>
<polyline points="395.1,474.6 396.9,453.9 399.2,443.1 400.4,455.7 401.3,465.6 402.8,444.9 404.0,428.8 405.3,419.4 406.7,423.4 408.5,428.8 410.3,433.3 411.8,437.8 413.6,425.2 415.7,430.6 417.5,428.8 419.3,423.4 420.2,419.4 421.5,425.2 422.9,432.4 424.4,441.3 425.6,450.3 426.5,458.4 428.0,448.5 429.2,440.4 430.9,432.2 432.7,433.1 434.5,418.8 436.8,416.1 438.6,433.1 439.9,426.0 441.1,406.5 442.6,426.0 443.5,438.5 445.3,447.5 447.6,452.9 449.8,443.9 451.6,435.8 453.0,447.5 453.9,451.1 455.2,438.5 456.1,427.8 457.9,425.6 459.1,434.9 460.6,445.7 462.0,457.4 463.8,472.7 466.0,478.1 467.4,461.9 468.7,443.0 470.4,437.6 472.2,456.5 474.0,455.6 475.8,454.7 478.2,452.0 481.2,444.8 483.0,452.9 484.3,469.1 485.4,484.4 487.2,469.1 488.4,452.9 490.2,438.5 492.0,436.4 493.3,447.5 494.7,459.2 496.2,470.9 498.0,454.4 499.2,461.9 500.5,472.7 501.9,487.1 502.8,496.1 504.1,487.1 505.5,472.7 506.8,460.1 508.6,461.9 509.9,449.3 510.8,442.1 512.6,434.9 514.0,443.9 515.3,450.2 517.1,445.7 518.9,442.1 520.1,444.8 521.6,447.5 523.4,443.0 525.2,438.5 527.0,437.1 528.4,438.5 529.7,443.0 530.9,438.5 532.4,434.9 534.2,434.0 536.0,439.4 537.8,433.1 539.6,432.2 541.0,430.4 542.2,427.8 543.5,434.9 544.9,441.2 546.7,443.9 548.2,440.3 549.4,437.6 551.2,440.3 552.5,447.5 553.9,461.9 555.0,476.3 555.7,489.8 556.6,470.9 557.5,445.7 558.4,447.5 559.3,452.9 560.8,440.3 562.0,431.3" fill="none" stroke="#141414" stroke-width="1.6" stroke-linejoin="round"/>
<polyline points="565.6,433.1 567.4,434.0 569.2,434.0 571.0,433.1 572.0,432.7 573.9,451.8" fill="none" stroke="#141414" stroke-width="1.6" stroke-linejoin="round"/>
<polyline points="578.2,439.0 580.2,438.0 582.2,442.9 584.1,454.7 586.1,452.4 588.6,452.7 590.6,458.6 592.5,460.6 593.9,462.5 595.5,467.5 597.1,469.4 599.0,466.5 601.0,461.6 603.3,452.7 604.9,439.0 605.7,428.2 607.6,430.2 608.8,454.7 610.2,468.4 612.2,477.3 613.5,493.9 614.7,505.7 616.3,508.6 617.5,488.0 619.0,468.4 620.6,448.8 622.5,442.5 624.5,454.7 626.5,464.5 628.4,479.2 629.8,458.6 630.8,445.9 632.7,439.0 634.7,431.2 637.1,419.4 639.0,423.3 641.0,419.4 643.5,415.5 644.5,423.3 645.5,434.1" fill="none" stroke="#141414" stroke-width="1.6" stroke-linejoin="round"/>
<g fill="none" stroke="#1a1a1a" stroke-width="1.9" stroke-dasharray="5.1 2.35">
<path d="M63.1 356.6H112.3"/>
<path d="M63.1 356.6V579.6"/>
<path d="M112.3 356.6V579.6"/>
<path d="M63.1 579.6H112.3"/>
</g>
<g font-family="'Liberation Serif', 'Times New Roman', serif" font-weight="bold" fill="#111">
<text x="343.8" y="323.8" font-size="15" text-anchor="middle">26th-April 2013</text>
<text x="36.2" y="579.0" font-size="14" text-anchor="end">-20</text>
<text x="36.2" y="537.9" font-size="14" text-anchor="end">0</text>
<text x="36.2" y="496.8" font-size="14" text-anchor="end">20</text>
<text x="36.2" y="455.7" font-size="14" text-anchor="end">40</text>
<text x="36.2" y="414.6" font-size="14" text-anchor="end">60</text>
<text x="36.2" y="373.5" font-size="14" text-anchor="end">80</text>
<text x="36.2" y="332.4" font-size="14" text-anchor="end">100</text>
<text x="41.0" y="591" font-size="14.3" text-anchor="middle">0</text>
<text x="66.3" y="591" font-size="14.3" text-anchor="middle">1</text>
<text x="91.6" y="591" font-size="14.3" text-anchor="middle">2</text>
<text x="116.9" y="591" font-size="14.3" text-anchor="middle">3</text>
<text x="142.2" y="591" font-size="14.3" text-anchor="middle">4</text>
<text x="167.5" y="591" font-size="14.3" text-anchor="middle">5</text>
<text x="192.8" y="591" font-size="14.3" text-anchor="middle">6</text>
<text x="218.0" y="591" font-size="14.3" text-anchor="middle">7</text>
<text x="243.3" y="591" font-size="14.3" text-anchor="middle">8</text>
<text x="268.6" y="591" font-size="14.3" text-anchor="middle">9</text>
<text x="293.9" y="591" font-size="14.3" text-anchor="middle">10</text>
<text x="319.2" y="591" font-size="14.3" text-anchor="middle">11</text>
<text x="344.5" y="591" font-size="14.3" text-anchor="middle">12</text>
<text x="369.8" y="591" font-size="14.3" text-anchor="middle">13</text>
<text x="395.1" y="591" font-size="14.3" text-anchor="middle">14</text>
<text x="420.4" y="591" font-size="14.3" text-anchor="middle">15</text>
<text x="445.7" y="591" font-size="14.3" text-anchor="middle">16</text>
<text x="471.0" y="591" font-size="14.3" text-anchor="middle">17</text>
<text x="496.2" y="591" font-size="14.3" text-anchor="middle">18</text>
<text x="521.5" y="591" font-size="14.3" text-anchor="middle">19</text>
<text x="546.8" y="591" font-size="14.3" text-anchor="middle">20</text>
<text x="572.1" y="591" font-size="14.3" text-anchor="middle">21</text>
<text x="597.4" y="591" font-size="14.3" text-anchor="middle">22</text>
<text x="622.7" y="591" font-size="14.3" text-anchor="middle">23</text>
<text x="648.0" y="591" font-size="14.3" text-anchor="middle">24</text>
<text x="652" y="578.9" font-size="13.5">-4</text>
<text x="652" y="551.5" font-size="13.5">-3</text>
<text x="652" y="524.1" font-size="13.5">-2</text>
<text x="652" y="496.7" font-size="13.5">-1</text>
<text x="652" y="469.3" font-size="13.5">0</text>
<text x="652" y="441.9" font-size="13.5">1</text>
<text x="652" y="414.5" font-size="13.5">2</text>
<text x="652" y="387.1" font-size="13.5">3</text>
<text x="652" y="359.7" font-size="13.5">4</text>
<text x="652" y="332.3" font-size="13.5">5</text>
<text x="344.2" y="607.7" font-size="14.7" text-anchor="middle">Hours (UT)</text>
<text transform="translate(10.8 450.5) rotate(-90)" font-size="14.9" text-anchor="middle">EEJ(nT)</text>
<text transform="translate(679.6 450.8) rotate(-90)" font-size="15" text-anchor="middle">Ey(mV/m)</text>
<text x="39.7" y="322" font-size="13">(b)</text>
</g>
</svg></body></html>
